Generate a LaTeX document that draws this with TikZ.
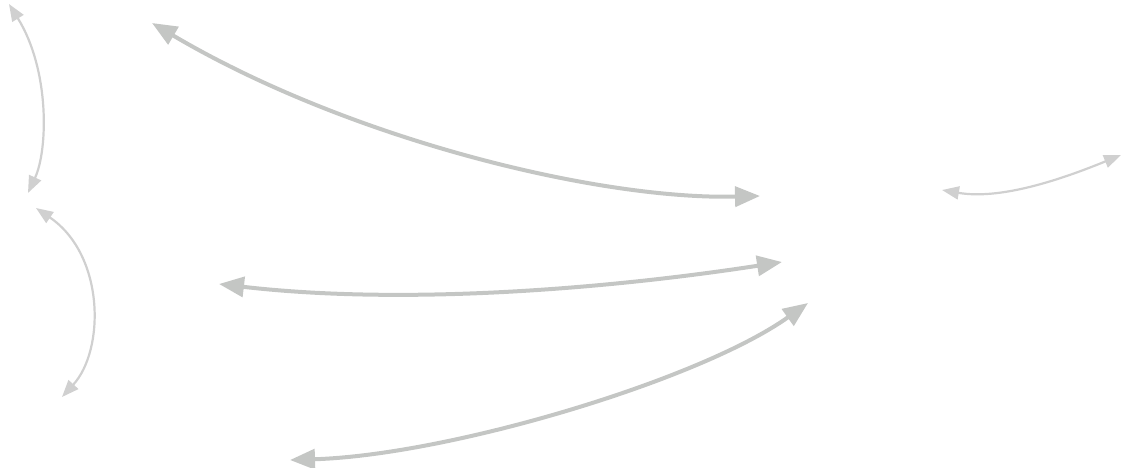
\documentclass[tikz,border=0pt]{standalone}
\usetikzlibrary{arrows.meta}
\definecolor{thickgray}{RGB}{196,198,196}
\definecolor{thingray}{RGB}{208,208,208}
\tikzset{
  thickarrow/.style={draw=thickgray, line width=4pt, {Triangle[length=25pt,width=20pt,fill=thickgray]}-{Triangle[length=25pt,width=20pt,fill=thickgray]}},
  thinarrow/.style={draw=thingray, line width=2.2pt, {Triangle[length=17pt,width=13pt,fill=thingray]}-{Triangle[length=17pt,width=13pt,fill=thingray]}}
}
\begin{document}
\begin{tikzpicture}[x=1pt,y=-1pt]
\useasboundingbox (0,0) rectangle (1122,467);
\coordinate (a1s) at (9,4);
\coordinate (a1e) at (28,193);
\coordinate (a2s) at (36,208);
\coordinate (a2e) at (62,397);
\coordinate (a3s) at (152,23);
\coordinate (a3e) at (760,196);
\coordinate (a4s) at (219,284);
\coordinate (a4e) at (782,262);
\coordinate (a5s) at (290,460);
\coordinate (a5e) at (808,303);
\coordinate (a6s) at (942,190);
\coordinate (a6e) at (1121,155);
\draw[thinarrow] (a1s) .. controls (50,70) and (48,150) .. (a1e);
\draw[thinarrow] (a2s) .. controls (105,255) and (105,350) .. (a2e);
\draw[thickarrow] (a3s) .. controls (350,140) and (600,200) .. (a3e);
\draw[thickarrow] (a4s) .. controls (400,305) and (600,290) .. (a4e);
\draw[thickarrow] (a5s) .. controls (450,455) and (700,380) .. (a5e);
\draw[thinarrow] (a6s) .. controls (1000,200) and (1060,180) .. (a6e);
\end{tikzpicture}
\end{document}
